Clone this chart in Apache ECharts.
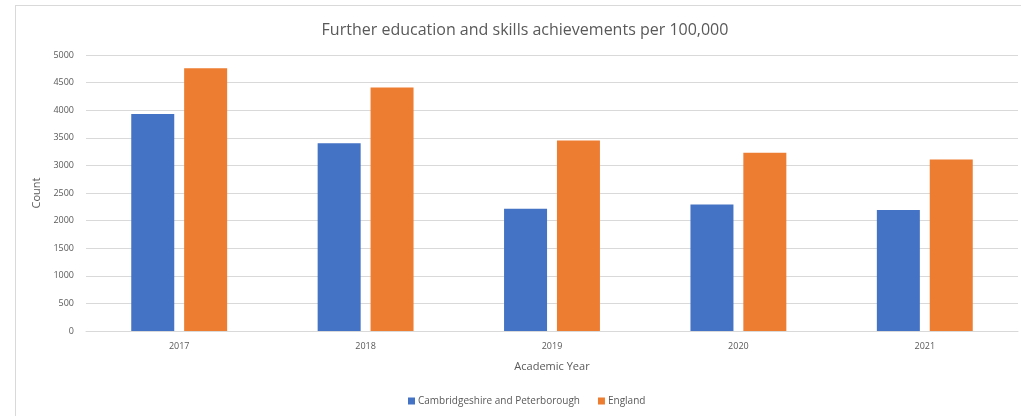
<!DOCTYPE html>
<html>
<head>
<meta charset="utf-8">
<script src="https://cdn.jsdelivr.net/npm/echarts@6/dist/echarts.min.js"></script>
<style>
  html, body { margin: 0; padding: 0; background: #fff; }
  #frame { position: absolute; left: 15px; top: 5px; width: 1006px; height: 411px;
           border-left: 1px solid #d9d9d9; border-top: 1px solid #d9d9d9; box-sizing: border-box; }
  #chart { position: absolute; left: 0; top: 0; width: 1021px; height: 416px; }
</style>
</head>
<body>
<div id="frame"></div>
<div id="chart"></div>
<script>
const years = ['2017', '2018', '2019', '2020', '2021'];
const cambsPeterborough = [3930, 3400, 2215, 2290, 2190];
const england = [4760, 4410, 3450, 3230, 3105];
const yTicks = { min: 0, max: 5000, interval: 500 };

const textColor = '#595959';
const fontFamily = '"Open Sans", "Noto Sans", sans-serif';

const chart = echarts.init(document.getElementById('chart'));
chart.setOption({
  animation: false,
  textStyle: { fontFamily: fontFamily },
  title: {
    text: 'Further education and skills achievements per 100,000',
    left: 520, top: 17, textAlign: 'center',
    textStyle: { fontSize: 16, fontWeight: 'normal', color: textColor, fontFamily: fontFamily }
  },
  grid: { left: 86, right: 3, top: 55, bottom: 85 },
  legend: {
    bottom: 5, left: 403,
    itemWidth: 7, itemHeight: 7, itemGap: 18,
    icon: 'rect',
    textStyle: { fontSize: 10, color: textColor, padding: [0, 0, 0, -2] },
    data: ['Cambridgeshire and Peterborough', 'England']
  },
  xAxis: {
    type: 'category',
    data: years,
    name: 'Academic Year',
    nameLocation: 'middle',
    nameGap: 30,
    nameTextStyle: { fontSize: 11, color: textColor },
    axisLine: { lineStyle: { color: '#d9d9d9' } },
    axisTick: { show: false },
    axisLabel: { fontSize: 9, color: textColor, margin: 11 }
  },
  yAxis: {
    type: 'value',
    min: yTicks.min, max: yTicks.max, interval: yTicks.interval,
    name: 'Count',
    nameLocation: 'middle',
    nameGap: 35,
    nameTextStyle: { fontSize: 11, color: textColor },
    axisLine: { show: false },
    axisTick: { show: false },
    axisLabel: { fontSize: 9, color: textColor, margin: 12, formatter: v => String(v) },
    splitLine: { lineStyle: { color: '#d9d9d9' } }
  },
  series: [
    {
      name: 'Cambridgeshire and Peterborough', type: 'bar',
      data: cambsPeterborough, barWidth: 43, barGap: '23%',
      itemStyle: { color: '#4472c4' }
    },
    {
      name: 'England', type: 'bar',
      data: england, barWidth: 43,
      itemStyle: { color: '#ed7d31' }
    }
  ]
});
</script>
</body>
</html>
